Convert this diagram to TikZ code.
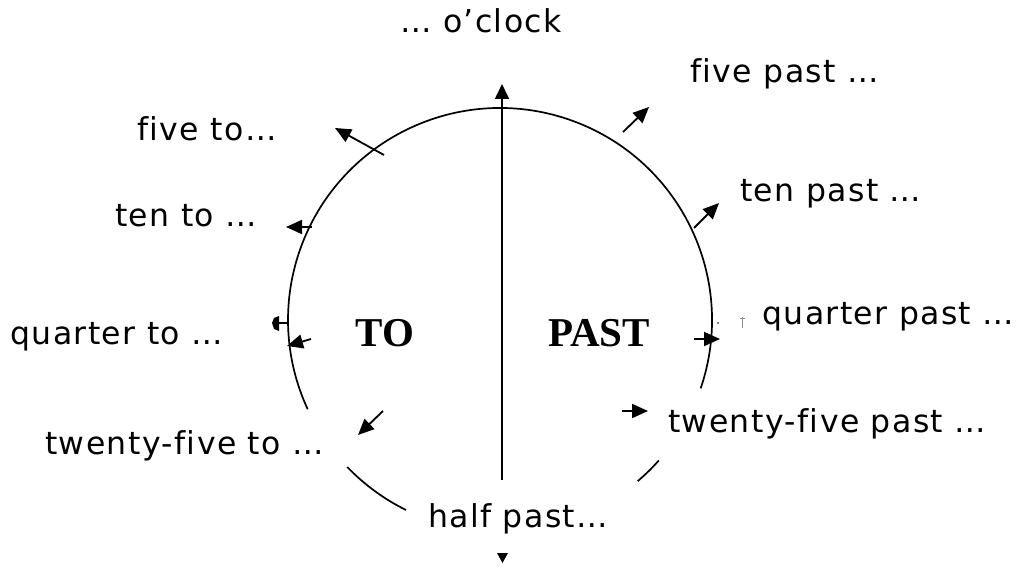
\documentclass[tikz,border=0pt]{standalone}
\usepackage{fontspec}
\newfontfamily\labfont[Ligatures=NoCommon, LetterSpace=4.5]{DejaVu Sans}
\newfontfamily\bigfont{Liberation Serif}
\usetikzlibrary{arrows.meta}
\tikzset{
  lab/.style={anchor=base west, inner sep=0pt, font=\labfont\fontsize{31.5}{36}\selectfont},
  big/.style={anchor=center, inner sep=0pt, font=\bigfont\bfseries\fontsize{41}{46}\selectfont},
  ring/.style={line width=1.7pt},
  pointer/.style={line width=1.8pt, -{Triangle[length=16pt,width=14pt]}},
}
\begin{document}
\begin{tikzpicture}[x=1pt,y=-1pt]
\useasboundingbox (0,0) rectangle (1023,567);
% clock face
\coordinate (c) at (500,320);
\draw[ring] (c) ++(18.8:212) arc[start angle=18.8, end angle=-204.9, radius=212];
\draw[ring] (c) ++(-223.9:212) arc[start angle=-223.9, end angle=-243.7, radius=212];
\draw[ring] (c) ++(-310.5:212) arc[start angle=-310.5, end angle=-318.5, radius=212];
% central line
\coordinate (vbot) at (502,480);
\coordinate (vtop) at (502,84);
\draw[line width=1.7pt, -{Triangle[length=15pt,width=14pt]}] (vbot) -- (vtop);
\fill (497,553) -- (508,553) -- (502.5,563) -- cycle;
% labels
\node[lab] (oclock) at (400,33) {… o’clock};
\node[lab] (fivepast) at (690,83) {five past …};
\node[lab] (fiveto) at (137,141) {five to…};
\node[lab] (tenpast) at (740,201) {ten past …};
\node[lab] (tento) at (115,226) {ten to …};
\node[lab] (qpast) at (762,324) {quarter past …};
\node[lab] (qto) at (10,344) {quarter to …};
\node[lab] (tfpast) at (668,432) {twenty-five past …};
\node[lab] (tfto) at (45,454) {twenty-five to …};
\node[lab] (half) at (428,527) {half past…};
\node[big] (to) at (385,333) {TO};
\node[big] (past) at (599,333) {PAST};
% pointers
\coordinate (a1s) at (384,155); \coordinate (a1e) at (335,128);
\draw[pointer] (a1s) -- (a1e);
\coordinate (a2s) at (312,227); \coordinate (a2e) at (286,227);
\draw[pointer] (a2s) -- (a2e);
\coordinate (a3s) at (311,339); \coordinate (a3e) at (287,346);
\draw[pointer] (a3s) -- (a3e);
\coordinate (a4s) at (383,411); \coordinate (a4e) at (358,435);
\draw[pointer] (a4s) -- (a4e);
\coordinate (b1s) at (623,132); \coordinate (b1e) at (649,107);
\draw[pointer] (b1s) -- (b1e);
\coordinate (b2s) at (694,228); \coordinate (b2e) at (719,203);
\draw[pointer] (b2s) -- (b2e);
\coordinate (b3s) at (694,339); \coordinate (b3e) at (720,339);
\draw[pointer] (b3s) -- (b3e);
\coordinate (b4s) at (622,411); \coordinate (b4e) at (648,411);
\draw[pointer] (b4s) -- (b4e);
% quarter-to stub
\coordinate (q1) at (287,323); \coordinate (q2) at (278,323);
\draw[line width=1.7pt] (q1) -- (q2);
\fill (279,316) -- (274,318) -- (272,323) -- (274,329) -- (279,331) -- cycle;
% quarter-past specks
\fill (718,323) circle[radius=0.8];
\draw[black!45, line width=0.6pt] (742,317) -- (742,328) (740,318) -- (745,318);
\end{tikzpicture}
\end{document}
